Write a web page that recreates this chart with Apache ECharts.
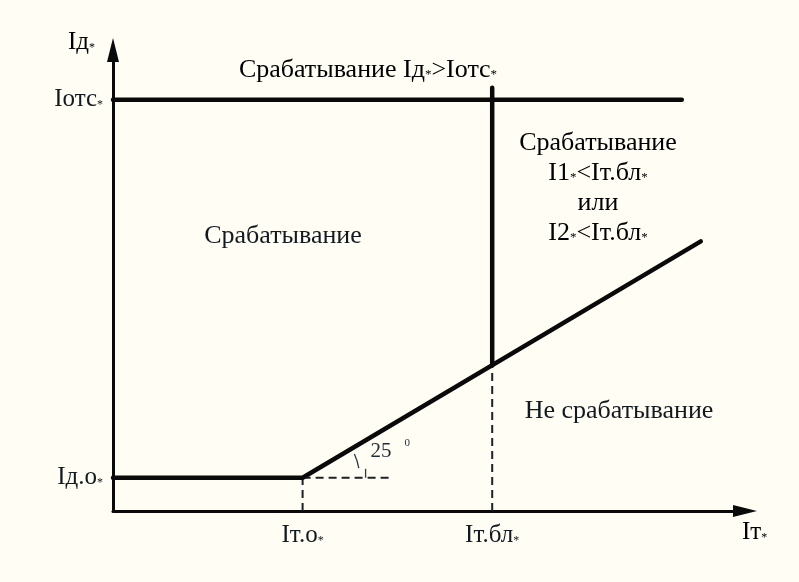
<!DOCTYPE html>
<html>
<head>
<meta charset="utf-8">
<script src="https://cdn.jsdelivr.net/npm/echarts@6/dist/echarts.min.js"></script>
<style>
  html, body { margin: 0; padding: 0; background: #fffdf4; }
  #chart { width: 799px; height: 582px; }
</style>
</head>
<body>
<div id="chart"></div>
<script>
// Characteristic of a differential protection relay (axes in relative units 0..100)

// Tick positions and names on the restraint-current axis
const xTickValues = [30, 60];
const xTickNames = ['Iт.о', 'Iт.бл'];

// Tick positions and names on the differential-current axis
const yTickValues = [7.2, 89.2];
const yTickNames = ['Iд.о', 'Iотс'];

// Restraint characteristic: flat part then 25° slope
const characteristic = [[0, 7.2], [30, 7.2], [93, 58.5]];

// Cut-off (instantaneous) level
const cutoffLine = [[0, 89.2], [90, 89.2]];

// Blocking boundary at Iт.бл
const blockLine = [[60, 31.6], [60, 91.8]];

// Dashed helper lines
const dashDropTo = [[30, 0], [30, 7.2]];
const dashBase = [[30, 7.2], [44.3, 7.2]];
const dashDropBl = [[60, 0], [60, 31.6]];

// Slope angle annotation
const slopeAngle = '25';

const FONT = '"Liberation Serif", "DejaVu Serif", serif';
const INK = '#111a1f';
const BIG = 26;

const rich = {
  m: { fontFamily: FONT, fontSize: 25, color: INK },
  s: { fontFamily: FONT, fontSize: 12, color: INK, padding: [10, 0, 0, 0] }
};
const richBig = {
  m: { fontFamily: FONT, fontSize: BIG, color: INK },
  s: { fontFamily: FONT, fontSize: 13, color: INK, padding: [10, 0, 0, 0] }
};

function tickName(values, names, v) {
  for (let i = 0; i < values.length; i++) {
    if (Math.abs(values[i] - v) < 1e-6) return '{m|' + names[i] + '}{s|*}';
  }
  return '';
}

const chart = echarts.init(document.getElementById('chart'), null, { renderer: 'canvas' });

function solid(data) {
  return {
    type: 'line', data: data, symbol: 'none', silent: true, animation: false,
    lineStyle: { color: '#0a0a0a', width: 4.5, cap: 'round' }, z: 3
  };
}
function dashed(data) {
  return {
    type: 'line', data: data, symbol: 'none', silent: true, animation: false,
    lineStyle: { color: '#1c2226', width: 2, type: [8, 5] }, z: 2
  };
}

const option = {
  backgroundColor: '#fffdf4',
  animation: false,
  grid: { left: 113, right: 54, top: 50, bottom: 71, containLabel: false },
  xAxis: {
    type: 'value', min: 0, max: 100,
    splitLine: { show: false },
    axisTick: { show: false },
    axisLine: {
      show: true, symbol: ['none', 'triangle'], symbolSize: [12, 24],
      lineStyle: { color: '#0a0a0a', width: 3 }
    },
    axisLabel: {
      customValues: xTickValues,
      margin: 12,
      formatter: v => tickName(xTickValues, xTickNames, v),
      rich: rich
    }
  },
  yAxis: {
    type: 'value', min: 0, max: 100,
    splitLine: { show: false },
    axisTick: { show: false },
    axisLine: {
      show: true, symbol: ['none', 'triangle'], symbolSize: [12, 24],
      lineStyle: { color: '#0a0a0a', width: 3 }
    },
    axisLabel: {
      customValues: yTickValues,
      margin: 10,
      formatter: v => tickName(yTickValues, yTickNames, v),
      rich: rich
    }
  },
  series: [
    solid(characteristic),
    solid(cutoffLine),
    solid(blockLine),
    dashed(dashDropTo),
    dashed(dashBase),
    dashed(dashDropBl),
    {
      // angle arc at the knee point of the characteristic
      type: 'custom', silent: true, animation: false, z: 4,
      data: [characteristic[1]],
      renderItem: function (params, api) {
        const p = api.coord([api.value(0), api.value(1)]);
        const r = 57;
        return {
          type: 'group',
          children: [
            {
              type: 'arc',
              shape: { cx: p[0], cy: p[1], r: r, startAngle: -0.43, endAngle: -0.17, clockwise: true },
              style: { stroke: '#2a3a48', lineWidth: 1.3, fill: null }
            },
            {
              type: 'line',
              shape: { x1: p[0] + 63, y1: p[1] - 9, x2: p[0] + 63, y2: p[1] },
              style: { stroke: '#2a3a48', lineWidth: 1.3 }
            },
            {
              type: 'text',
              style: { text: slopeAngle, x: p[0] + 68, y: p[1] - 26, fontFamily: FONT, fontSize: 21, fill: '#1f2c36', verticalAlign: 'middle' }
            },
            {
              type: 'text',
              style: { text: '0', x: p[0] + 102, y: p[1] - 35, fontFamily: FONT, fontSize: 11, fill: '#1f2c36', verticalAlign: 'middle' }
            }
          ]
        };
      }
    }
  ],
  graphic: [
    {
      type: 'text', left: 68, top: 30,
      style: { text: '{m|Iд}{s|*}', rich: rich }
    },
    {
      type: 'text', left: 742, top: 520,
      style: { text: '{m|Iт}{s|*}', rich: rich }
    },
    {
      type: 'text', x: 368, y: 70,
      style: { text: '{m|Срабатывание Iд}{s|*}{m|>Iотс}{s|*}', rich: richBig, align: 'center', verticalAlign: 'middle' }
    },
    {
      type: 'text', x: 283, y: 236,
      style: { text: 'Срабатывание', fontFamily: FONT, fontSize: BIG, fill: INK, align: 'center', verticalAlign: 'middle' }
    },
    {
      type: 'text', x: 598, y: 188,
      style: {
        text: '{m|Срабатывание}\n{m|I1}{s|*}{m|<Iт.бл}{s|*}\n{m|или}\n{m|I2}{s|*}{m|<Iт.бл}{s|*}',
        rich: {
          m: { fontFamily: FONT, fontSize: BIG, color: INK, lineHeight: 30, align: 'center' },
          s: { fontFamily: FONT, fontSize: 13, color: INK, lineHeight: 30, padding: [10, 0, 0, 0] }
        },
        align: 'center', verticalAlign: 'middle'
      }
    },
    {
      type: 'text', x: 619, y: 411,
      style: { text: 'Не срабатывание', fontFamily: FONT, fontSize: BIG, fill: INK, align: 'center', verticalAlign: 'middle' }
    }
  ]
};

chart.setOption(option);
</script>
</body>
</html>
